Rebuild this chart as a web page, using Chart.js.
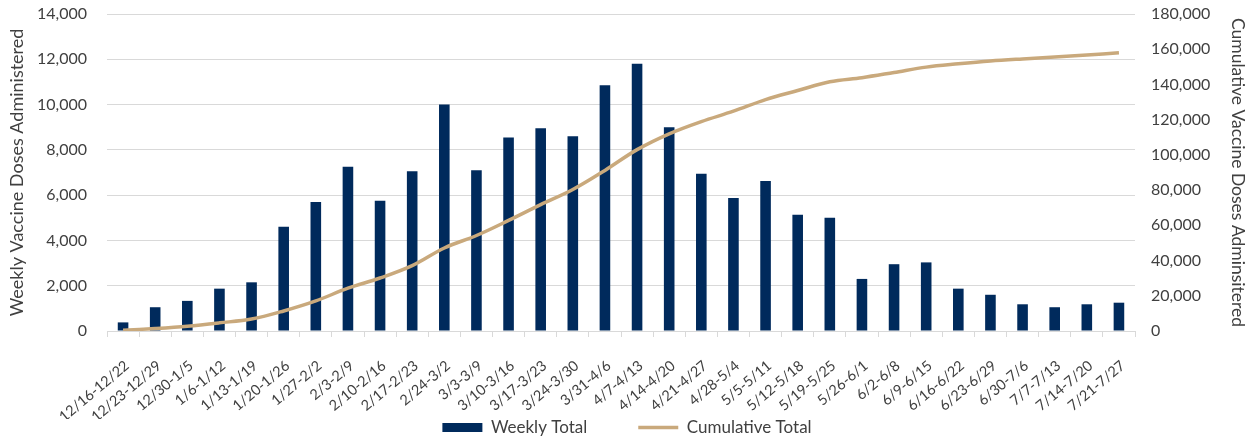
<!DOCTYPE html>
<html>
<head>
<meta charset="utf-8">
<script src="https://cdn.jsdelivr.net/npm/chart.js@4.4.1/dist/chart.umd.min.js"></script>
<style>
  html, body { margin: 0; padding: 0; background: #fff; }
  #wrap { width: 1252px; height: 440px; }
</style>
</head>
<body>
<div id="wrap"><canvas id="chart"></canvas></div>
<script>
  // weeks (2020-12-16 .. 2021-7-27)
  const weeks = [
    "12/16-12/22", "12/23-12/29", "12/30-1/5", "1/6-1/12", "1/13-1/19", "1/20-1/26",
    "1/27-2/2", "2/3-2/9", "2/10-2/16", "2/17-2/23", "2/24-3/2", "3/3-3/9",
    "3/10-3/16", "3/17-3/23", "3/24-3/30", "3/31-4/6", "4/7-4/13", "4/14-4/20",
    "4/21-4/27", "4/28-5/4", "5/5-5/11", "5/12-5/18", "5/19-5/25", "5/26-6/1",
    "6/2-6/8", "6/9-6/15", "6/16-6/22", "6/23-6/29", "6/30-7/6", "7/7-7/13",
    "7/14-7/20", "7/21-7/27"
  ];
  const weeklyTotal = [
    380, 1050, 1330, 1870, 2150, 4600, 5700, 7250, 5750, 7050, 10000, 7100,
    8550, 8950, 8600, 10850, 11800, 9000, 6950, 5870, 6620, 5130, 5000, 2300,
    2950, 3030, 1870, 1600, 1180, 1050, 1180, 1250
  ];
  const cumulativeTotal = [
    380, 1430, 2760, 4630, 6780, 11380, 17080, 24330, 30080, 37130, 47130, 54230,
    62780, 71730, 80330, 91180, 102980, 111980, 118930, 124800, 131420, 136550, 141550, 143850,
    146800, 149830, 151700, 153300, 154480, 155530, 156710, 157960
  ];
  const leftTicks = [0, 14000, 2000];
  const rightTicks = [0, 180000, 20000];

  const NAVY = "#002a5c";
  const TAN = "#c9a97c";
  const GRID = "#d9d9d9";
  const INK = "#404040";
  const FONT = "Lato, 'Open Sans', sans-serif";
  const nf = (v) => Number(v).toLocaleString("en-US");
  const SP = "\u2002";

  // keep the plot top where the reference has it (tick padding would push it down)
  const trimPad = (s) => { s.paddingTop = 14; s.paddingBottom = 9; };

  new Chart(document.getElementById("chart"), {
    data: {
      labels: weeks,
      datasets: [
        {
          type: "line", label: "Cumulative Total", data: cumulativeTotal, yAxisID: "y2",
          borderColor: TAN, backgroundColor: TAN, borderWidth: 3.5,
          pointRadius: 0, tension: 0.35, order: 0,
        },
        {
          type: "bar", label: "Weekly Total", data: weeklyTotal, yAxisID: "y",
          backgroundColor: NAVY, barPercentage: 0.33, categoryPercentage: 1, order: 1,
        },
      ],
    },
    options: {
      responsive: true, maintainAspectRatio: false, animation: false,
      layout: { padding: { top: 0, left: 6, right: 4, bottom: -6 } },
      plugins: {
        tooltip: { enabled: false },
        legend: {
          position: "bottom",
          labels: {
            usePointStyle: true, pointStyleWidth: 40, boxHeight: 9, padding: 0,
            color: INK, font: { family: FONT, size: 17 },
            generateLabels: () => [
              { text: "Weekly Total" + SP.repeat(6), fillStyle: NAVY, strokeStyle: NAVY,
                lineWidth: 0, pointStyle: "rect", fontColor: INK },
              { text: "Cumulative Total", fillStyle: TAN, strokeStyle: TAN,
                lineWidth: 3.5, pointStyle: "line", fontColor: INK },
            ],
          },
        },
      },
      scales: {
        x: {
          offset: true,
          grid: { offset: true, drawOnChartArea: false, drawTicks: true, tickLength: 6, color: GRID },
          border: { color: GRID },
          ticks: {
            color: INK, font: { family: FONT, size: 14.5 }, minRotation: 40, maxRotation: 40,
            autoSkip: false, padding: 20, labelOffset: 4,
          },
          afterFit: (s) => { s.height = 88; },
        },
        y: {
          position: "left", min: leftTicks[0], max: leftTicks[1],
          grid: { color: GRID, drawTicks: false },
          border: { display: false },
          ticks: { stepSize: leftTicks[2], padding: 20, color: INK, font: { family: FONT, size: 16 }, callback: nf },
          title: { display: true, text: "Weekly Vaccine Doses Administered", color: INK, font: { family: FONT, size: 18 }, padding: 0 },
          afterFit: (s) => { s.width = 101; trimPad(s); },
        },
        y2: {
          position: "right", min: rightTicks[0], max: rightTicks[1],
          grid: { drawOnChartArea: false, drawTicks: false },
          border: { display: false },
          ticks: { stepSize: rightTicks[2], padding: 16, color: INK, font: { family: FONT, size: 16 }, callback: nf },
          title: { display: true, text: "Cumulative Vaccine Doses Adminsitered", color: INK, font: { family: FONT, size: 17.5 }, padding: 0 },
          afterFit: (s) => { s.width = 113; trimPad(s); },
        },
      },
    },
  });
</script>
</body>
</html>
